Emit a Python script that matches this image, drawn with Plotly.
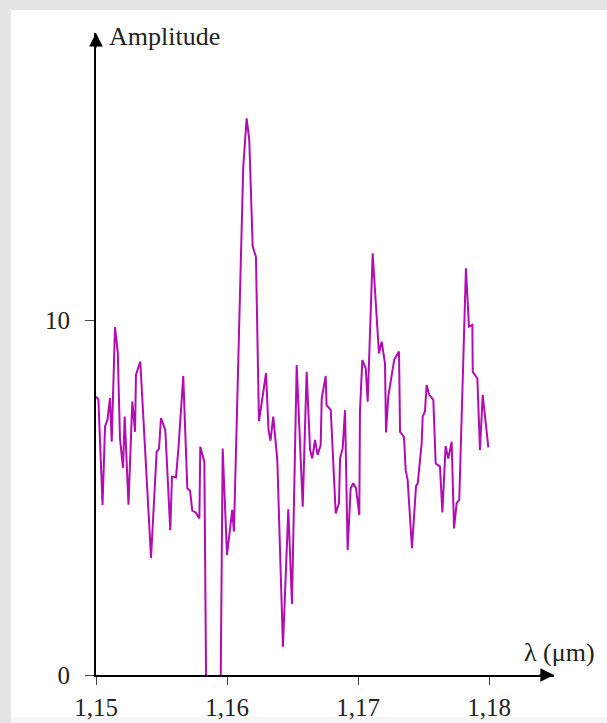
import plotly.graph_objects as go

# ---- data ----
wavelength_um = [
    1.15000, 1.15018, 1.15050, 1.15069, 1.15088, 1.15107, 1.15120, 1.15145, 1.15166, 1.15183,
    1.15206, 1.15219, 1.15248, 1.15277, 1.15298, 1.15305, 1.15338, 1.15420, 1.15463, 1.15481,
    1.15496, 1.15529, 1.15567, 1.15580, 1.15611, 1.15630, 1.15666, 1.15697, 1.15718, 1.15735,
    1.15761, 1.15789, 1.15796, 1.15827, 1.15847, 1.15870, 1.15893, 1.15920, 1.15944, 1.15967,
    1.16000, 1.16040, 1.16053, 1.16124, 1.16150, 1.16170, 1.16196, 1.16221, 1.16244, 1.16298,
    1.16317, 1.16332, 1.16353, 1.16384, 1.16427, 1.16468, 1.16496, 1.16532, 1.16578, 1.16608,
    1.16634, 1.16651, 1.16672, 1.16692, 1.16715, 1.16723, 1.16753, 1.16760, 1.16792, 1.16830,
    1.16855, 1.16863, 1.16883, 1.16901, 1.16921, 1.16944, 1.16964, 1.16985, 1.17010, 1.17015,
    1.17033, 1.17059, 1.17074, 1.17112, 1.17160, 1.17181, 1.17206, 1.17214, 1.17231, 1.17277,
    1.17313, 1.17321, 1.17351, 1.17364, 1.17379, 1.17412, 1.17443, 1.17456, 1.17486, 1.17494,
    1.17511, 1.17524, 1.17544, 1.17575, 1.17593, 1.17626, 1.17644, 1.17669, 1.17689, 1.17715,
    1.17733, 1.17753, 1.17773, 1.17824, 1.17847, 1.17873, 1.17876, 1.17911, 1.17931, 1.17952,
    1.17995,
]
amplitude = [
    7.84, 7.77, 4.79, 7.00, 7.20, 7.80, 6.57, 9.80, 9.10, 6.67,
    5.83, 7.28, 4.80, 7.70, 6.85, 8.45, 8.83, 3.30, 6.29, 6.37,
    7.24, 6.90, 4.08, 5.59, 5.57, 6.43, 8.42, 5.26, 5.19, 4.63,
    4.58, 4.41, 6.43, 6.01, -3.2, -6.0, -6.0, -6.0, -3.5, 6.38,
    3.38, 4.65, 4.04, 14.32, 15.68, 15.07, 12.07, 11.78, 7.15, 8.50,
    6.90, 6.60, 7.28, 6.06, 0.80, 4.67, 2.00, 8.73, 4.74, 8.54,
    6.34, 6.10, 6.62, 6.20, 6.48, 7.79, 8.42, 7.60, 7.46, 4.55,
    4.84, 6.10, 6.39, 7.46, 3.52, 5.26, 5.40, 5.26, 4.51, 7.42,
    8.87, 8.64, 7.70, 11.88, 9.06, 9.39, 8.78, 6.83, 7.84, 8.89,
    9.11, 6.85, 6.71, 5.77, 5.49, 3.57, 5.32, 5.40, 6.53, 7.28,
    7.42, 8.17, 7.89, 7.75, 5.96, 5.87, 4.58, 6.45, 6.10, 6.57,
    4.13, 4.84, 4.93, 11.46, 9.81, 9.86, 8.54, 8.36, 6.34, 7.89,
    6.41,
]
x_ticks = [1.15, 1.16, 1.17, 1.18]
x_tick_labels = ["1,15", "1,16", "1,17", "1,18"]
y_ticks = [0, 10]
y_tick_labels = ["0", "10"]
x_range = [1.15, 1.184962]
y_range = [0, 18.085]
x_label = "λ (μm)"
y_label = "Amplitude"

W, H = 607, 723
FONT = "Liberation Serif"
TXT = "#222222"

fig = go.Figure()
fig.add_trace(go.Scatter(
    x=wavelength_um, y=amplitude, mode="lines",
    line=dict(color="#b20cb2", width=2),
    showlegend=False, hoverinfo="skip",
))

common_x = dict(range=x_range, tickvals=x_ticks, ticktext=x_tick_labels,
                showgrid=False, zeroline=False, automargin=False)
common_y = dict(range=y_range, tickvals=y_ticks, ticktext=y_tick_labels,
                showgrid=False, zeroline=False, automargin=False)

fig.update_layout(
    width=W, height=H,
    autosize=False,
    margin=dict(l=0, r=0, t=0, b=0, pad=0, autoexpand=False),
    paper_bgcolor="white", plot_bgcolor="rgba(0,0,0,0)",
    font=dict(family=FONT, size=25, color=TXT),
    xaxis=dict(
        domain=[96 / W, 554 / W], anchor="y", **common_x,
        ticks="outside", ticklen=8, tickwidth=1.2, tickcolor="#444",
        showline=True, linecolor="black", linewidth=2,
        tickfont=dict(family=FONT, size=25, color=TXT), ticklabelstandoff=1,
    ),
    xaxis2=dict(
        domain=[96 / W, 554 / W], anchor="y", overlaying="x", side="bottom", **common_x,
        ticks="inside", ticklen=8, tickwidth=1.2, tickcolor="#444",
        showticklabels=False, showline=False,
    ),
    yaxis=dict(
        domain=[1 - 675 / H, 1 - 33 / H], anchor="x", **common_y,
        ticks="outside", ticklen=9, tickwidth=1.2, tickcolor="#444",
        showline=True, linecolor="black", linewidth=2,
        tickfont=dict(family=FONT, size=25, color=TXT), ticklabelstandoff=10,
    ),
    yaxis2=dict(
        domain=[1 - 675 / H, 1 - 33 / H], anchor="x", overlaying="y", side="left", **common_y,
        ticks="inside", ticklen=9, tickwidth=1.2, tickcolor="#444",
        showticklabels=False, showline=False,
    ),
)

# axis arrowheads
fig.add_annotation(x=x_range[1], y=0, xref="x", yref="y", ax=-16, ay=0,
                   text="", showarrow=True, arrowhead=2, arrowsize=1.7,
                   arrowwidth=1.6, arrowcolor="black")
fig.add_annotation(x=x_range[0], y=y_range[1], xref="x", yref="y", ax=0, ay=16,
                   text="", showarrow=True, arrowhead=2, arrowsize=1.7,
                   arrowwidth=1.6, arrowcolor="black")

# axis titles
fig.add_annotation(x=107 / W, y=1 - 36 / H, xref="paper", yref="paper",
                   xanchor="left", yanchor="middle", text=y_label, showarrow=False,
                   font=dict(family=FONT, size=26, color=TXT))
fig.add_annotation(x=597 / W, y=1 - 652 / H, xref="paper", yref="paper",
                   xanchor="right", yanchor="middle", text=x_label, showarrow=False,
                   font=dict(family=FONT, size=26, color=TXT))

# page frame (grey border at top and left, faint band at bottom)
fig.add_shape(type="rect", xref="paper", yref="paper", x0=0, x1=11 / W, y0=0, y1=1,
              fillcolor="#e5e5e5", line_width=0, layer="below")
fig.add_shape(type="rect", xref="paper", yref="paper", x0=0, x1=1, y0=1 - 10 / H, y1=1,
              fillcolor="#e5e5e5", line_width=0, layer="below")
fig.add_shape(type="rect", xref="paper", yref="paper", x0=11 / W, x1=1, y0=0, y1=6 / H,
              fillcolor="#f5f5f5", line_width=0, layer="below")

fig.write_html("out.html", config={"displayModeBar": False},
               post_script="document.body.style.margin='0px';")
